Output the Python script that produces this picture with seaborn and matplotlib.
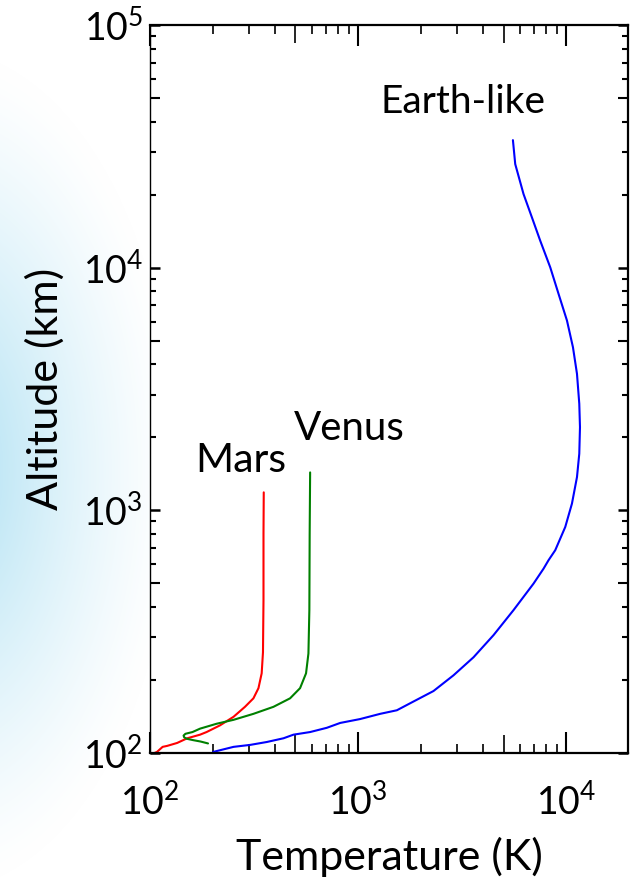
import numpy as np
import pandas as pd
import seaborn as sns
import matplotlib
matplotlib.use("Agg")
import matplotlib.pyplot as plt
from matplotlib.ticker import LogLocator, LogFormatterMathtext, NullFormatter

# Thermospheric temperature profiles (temperature in K, altitude in km)
earth_T = [201, 252, 303, 364, 438, 489, 588, 707, 820, 1022, 1276, 1535,
           1845, 2301, 2872, 3584, 4473, 5580, 6963, 7779, 8220, 8853, 9890,
           10650, 11260, 11550, 11640, 11550, 11260, 10770, 10080, 9184,
           8377, 7499, 6840, 6233, 5686, 5543]
earth_z = [101, 106, 108, 111, 115, 119, 122, 127, 133, 138, 145, 150,
           163, 180, 209, 248, 306, 388, 499, 575, 623, 685, 854,
           1066, 1371, 1712, 2202, 2749, 3652, 4699, 6052, 7795,
           10030, 12910, 16110, 20110, 26720, 33540]

mars_T = [105, 108, 115, 121, 135, 151, 174, 187, 217, 252, 286, 314, 332,
          344, 349, 351, 351, 352]
mars_z = [100, 101, 106, 107, 110, 115, 119, 122, 130, 141, 155, 168, 185,
          213, 260, 426, 800, 1186]

venus_T = [190, 175, 161, 150, 146, 145, 148, 160, 174, 209, 252, 314, 392,
           471, 526, 562, 577, 583, 585, 588]
venus_z = [109.5, 111.5, 113, 114.5, 116, 118, 120, 122, 126, 132, 137, 145,
           155, 168, 185, 213, 257, 388, 800, 1433]

colors = {"Earth-like": "#0000ff", "Mars": "#ff0000", "Venus": "#008000"}

frames = []
for name, t, z in [("Earth-like", earth_T, earth_z),
                   ("Mars", mars_T, mars_z),
                   ("Venus", venus_T, venus_z)]:
    frames.append(pd.DataFrame({"T": t, "z": z, "planet": name}))
df = pd.concat(frames, ignore_index=True)

sns.set_theme(style="ticks")
plt.rcParams["font.family"] = ["Lato", "DejaVu Sans"]
plt.rcParams["mathtext.fontset"] = "custom"
plt.rcParams["mathtext.rm"] = "Lato"
plt.rcParams["mathtext.default"] = "regular"
for key in ("text.color", "axes.labelcolor", "xtick.color", "ytick.color",
            "xtick.labelcolor", "ytick.labelcolor", "axes.edgecolor"):
    plt.rcParams[key] = "black"

W, H = 638, 885
fig = plt.figure(figsize=(W / 100, H / 100), dpi=100)
fig.patch.set_facecolor("white")

# soft blue glow along the left edge
bg = fig.add_axes([0, 0, 1, 1], zorder=-5)
yy, xx = np.mgrid[0:H, 0:W]
r = np.sqrt(((xx + 60) / 235.0) ** 2 + ((yy - 470) / 420.0) ** 2)
k = np.clip(1 - r, 0, 1) ** 1.3
glow = np.array([168, 222, 242]) / 255.0
img = np.ones((H, W, 3)) * (1 - k[..., None]) + glow * k[..., None]
bg.imshow(img, aspect="auto", interpolation="bilinear")
bg.axis("off")

ax = fig.add_axes([150 / W, 1 - 753 / H, 478 / W, 728 / H])
ax.set_facecolor("white")

sns.lineplot(data=df, x="T", y="z", hue="planet", palette=colors,
             sort=False, estimator=None, units="planet", legend=False,
             linewidth=1.5, ax=ax)

ax.set_xscale("log")
ax.set_yscale("log")
ax.set_xlim(100, 19800)
ax.set_ylim(100, 1e5)

for axis in (ax.xaxis, ax.yaxis):
    axis.set_major_locator(LogLocator(base=10, numticks=10))
    axis.set_minor_locator(LogLocator(base=10, subs=np.arange(2, 10), numticks=20))
    axis.set_major_formatter(LogFormatterMathtext())
    axis.set_minor_formatter(NullFormatter())

ax.tick_params(axis="both", which="both", direction="in", top=True, right=True,
               colors="black", labelsize=27)
ax.tick_params(axis="x", which="major", length=15, width=1.5, pad=22)
ax.tick_params(axis="x", which="minor", length=6.5, width=1.2)
ax.tick_params(axis="y", which="major", length=7.5, width=1.8, pad=5)
ax.tick_params(axis="y", which="minor", length=4.5, width=1.5)

# longer ticks at the 5x positions
fig.canvas.draw()
for axis, L in ((ax.xaxis, 13), (ax.yaxis, 7)):
    locs = axis.get_minorticklocs()
    for tick, loc in zip(axis.get_minor_ticks(len(locs)), locs):
        lead = round(loc / 10 ** np.floor(np.log10(loc) + 1e-9))
        if lead == 5:
            tick.tick1line.set_markersize(L)
            tick.tick2line.set_markersize(L)

for side in ("top", "bottom", "right"):
    ax.spines[side].set_linewidth(1.6)
    ax.spines[side].set_color("black")
ax.spines["left"].set_linewidth(1.0)
ax.spines["left"].set_color("black")

ax.set_xlabel("Temperature (K)", fontsize=31, labelpad=11)
ax.set_ylabel("Altitude (km)", fontsize=31, labelpad=13)

ax.text(3200, 43400, "Earth-like", fontsize=28, ha="center", va="baseline")
ax.text(274, 1433, "Mars", fontsize=29.5, ha="center", va="baseline")
ax.text(905, 1942, "Venus", fontsize=29, ha="center", va="baseline")

fig.savefig("out.png", dpi=100, facecolor="white")
